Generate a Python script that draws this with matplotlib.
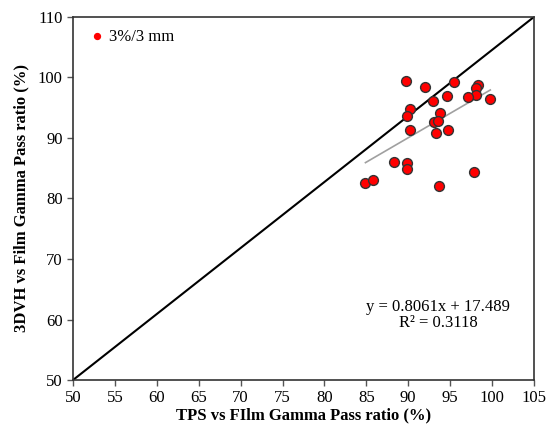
import matplotlib
matplotlib.use("Agg")
import matplotlib.pyplot as plt
import numpy as np

#data
tps = [89.7, 92.0, 95.5, 98.3, 98.1, 98.1, 97.1, 99.8, 94.6, 93.0,
       90.2, 89.9, 93.8, 93.1, 93.5, 90.2, 93.3, 94.7, 88.3, 89.9,
       89.9, 84.9, 85.8, 93.7, 97.8]
dvh = [99.4, 98.4, 99.2, 98.8, 98.3, 97.1, 96.8, 96.4, 96.9, 96.1,
       94.8, 93.7, 94.2, 92.6, 92.8, 91.4, 90.9, 91.3, 86.1, 85.9,
       84.9, 82.6, 83.1, 82.1, 84.4]
slope = 0.8061
intercept = 17.489
r2 = 0.3118

xticks = list(range(50, 106, 5))
yticks = list(range(50, 111, 10))

#-------------------------------------------------------------------------------

plt.rcParams['font.family'] = ['Liberation Serif', 'DejaVu Serif']

fig = plt.figure(figsize=(5.47, 4.29), dpi=100)
ax = fig.add_axes([0.1335, 0.1142, 0.8425, 0.8462])

#corner to corner line
ax.plot([0, 1], [0, 1], transform=ax.transAxes, color="black", lw=1.5, zorder=1)

fx = np.array([min(tps), max(tps)])
ax.plot(fx, slope * fx + intercept, color="#a0a0a0", lw=1.2, zorder=2)

ax.scatter(tps, dvh, s=50, color="#ff0000", edgecolors="#333333",
           linewidths=1.0, zorder=3, label="3%/3 mm")

ax.text(93.6, 62.0, "y = %.4fx + %.3f" % (slope, intercept), ha="center",
        va="center", fontsize=12)
ax.text(93.6, 59.4, "R² = %.4f" % r2, ha="center", va="center", fontsize=12)

ax.set_xlim(50, 105)
ax.set_ylim(50, 110)
ax.set_xticks(xticks)
ax.set_yticks(yticks)
ax.tick_params(labelsize=12, direction="out", length=4, width=1, color="#555555")
for s in ax.spines.values():
    s.set_linewidth(1.2)
    s.set_color("#333333")

ax.set_xlabel("TPS vs FIlm Gamma Pass ratio (%)", fontsize=12,
              fontweight="bold", labelpad=1)
ax.set_ylabel("3DVH vs Film Gamma Pass ratio (%)", fontsize=12,
              fontweight="bold", labelpad=6)

leg = ax.legend(loc="upper left", frameon=False, fontsize=12, markerscale=0.6,
                handlelength=1.0, handletextpad=0.25, borderaxespad=0.3,
                borderpad=0.4, bbox_to_anchor=(0.008, 1.0))
for h in leg.legend_handles:
    h.set_edgecolor("#ff0000")

plt.savefig("out.png", dpi=100)
